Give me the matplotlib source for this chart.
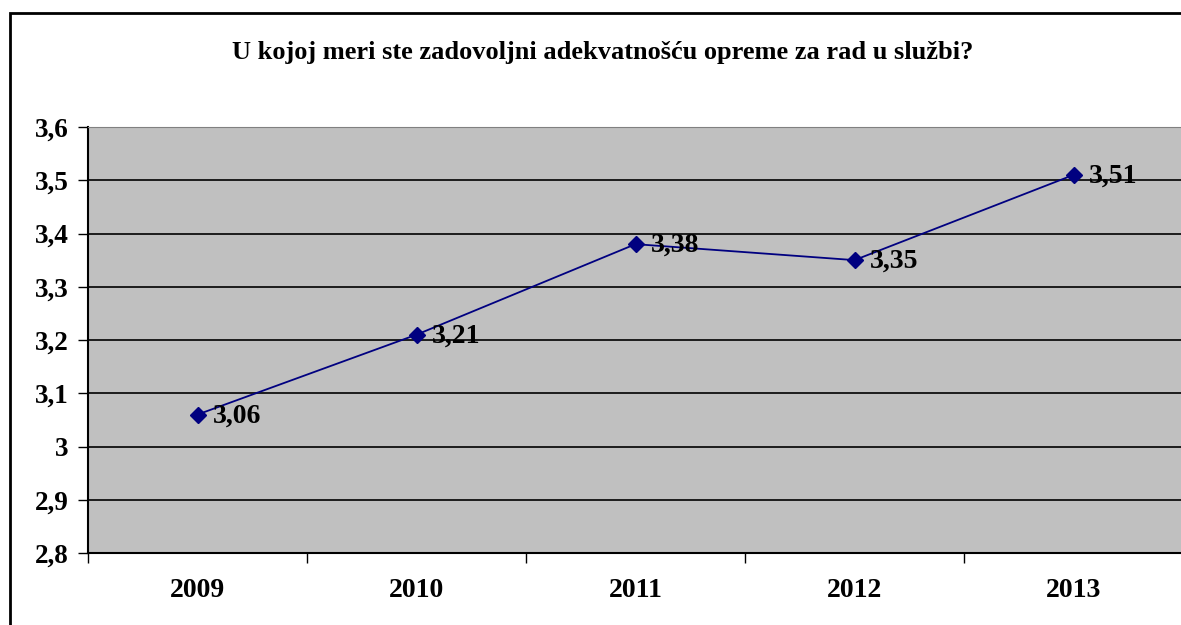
import matplotlib.pyplot as plt
from matplotlib.patches import Rectangle
from matplotlib.ticker import FixedLocator, NullFormatter

# data
years = ['2009', '2010', '2011', '2012', '2013']
scores = [3.06, 3.21, 3.38, 3.35, 3.51]
score_labels = ['3,06', '3,21', '3,38', '3,35', '3,51']
y_ticks = [2.8, 2.9, 3.0, 3.1, 3.2, 3.3, 3.4, 3.5, 3.6]
y_tick_labels = ['2,8', '2,9', '3', '3,1', '3,2', '3,3', '3,4', '3,5', '3,6']
title = 'U kojoj meri ste zadovoljni adekvatnošću opreme za rad u službi?'

plt.rcParams['font.family'] = ['Liberation Serif', 'DejaVu Serif']
plt.rcParams['font.weight'] = 'bold'

W, H = 1181, 625
fig = plt.figure(figsize=(W / 100, H / 100), dpi=100)

# outer chart border (clipped at right and bottom like the reference)
fig.patches.append(Rectangle((10 / W, -0.1), 1.2, 1 - 13 / H + 0.1,
                             transform=fig.transFigure, fill=False,
                             edgecolor='black', linewidth=2, zorder=0))

# plot area in pixels: left 88, right 1183, top 127, bottom 553
left, right, top, bottom = 88, 1183, 127, 553
ax = fig.add_axes([left / W, 1 - bottom / H, (right - left) / W, (bottom - top) / H])
ax.set_facecolor('#c0c0c0')

x = list(range(len(years)))
ax.plot(x, scores, color='#000080', linewidth=1.3, marker='D', markersize=8.5,
        markerfacecolor='#000080', markeredgecolor='#000080', zorder=3,
        clip_on=False)
for xi, yi, lab in zip(x, scores, score_labels):
    ax.annotate(lab, (xi, yi), xytext=(11, -1), textcoords='offset points',
                ha='left', va='center', fontsize=20, fontweight='bold', zorder=4)

ax.set_xlim(-0.5, len(years) - 0.5)
ax.set_ylim(2.8, 3.6)
ax.set_yticks(y_ticks)
ax.set_yticklabels(y_tick_labels, fontsize=19.5, fontweight='bold')
ax.yaxis.grid(True, color='black', linewidth=1.2)
ax.set_axisbelow(True)

ax.xaxis.set_major_locator(FixedLocator([i - 0.5 for i in range(len(years) + 1)]))
ax.xaxis.set_major_formatter(NullFormatter())
ax.xaxis.set_minor_locator(FixedLocator(x))
ax.set_xticklabels(years, minor=True, fontsize=20, fontweight='bold')
ax.tick_params(axis='x', which='minor', length=0, pad=18)
ax.tick_params(axis='x', which='major', length=7, width=1, direction='out')
ax.tick_params(axis='y', length=7, width=1, direction='out', pad=7)

for side in ['left', 'bottom']:
    ax.spines[side].set_color('black')
    ax.spines[side].set_linewidth(1.5)
ax.spines['top'].set_color('#808080')
ax.spines['right'].set_color('#808080')

fig.text(603 / W, 1 - 52 / H, title, ha='center', va='center',
         fontsize=19, fontweight='bold')

fig.savefig('out.png', dpi=100)
